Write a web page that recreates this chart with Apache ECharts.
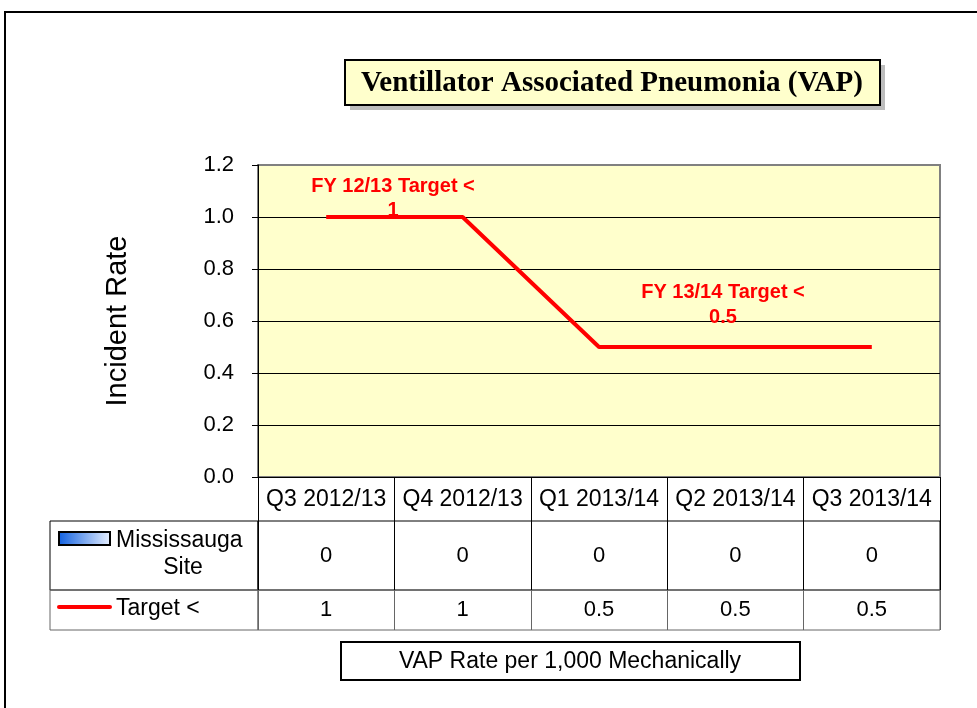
<!DOCTYPE html>
<html><head><meta charset="utf-8">
<script src="https://cdn.jsdelivr.net/npm/echarts@6/dist/echarts.min.js"></script>
<style>html,body{margin:0;padding:0;background:#fff}#c{width:977px;height:708px}</style>
</head><body><div id="c"></div>
<script>
const categories = ['Q3 2012/13','Q4 2012/13','Q1 2013/14','Q2 2013/14','Q3 2013/14'];
const siteValues = [0, 0, 0, 0, 0];
const targetValues = [1, 1, 0.5, 0.5, 0.5];
const yTicks = [0, 0.2, 0.4, 0.6, 0.8, 1.0, 1.2];

const chart = echarts.init(document.getElementById('c'));
const F = 'Arial, "Liberation Sans", sans-serif';
const gridL = 258, gridR = 37;
const splitColors = yTicks.map((t, i) => i === yTicks.length - 1 ? 'rgba(0,0,0,0)' : '#000');
const blueGrad = {type: 'linear', x: 0, y: 0, x2: 1, y2: 0, colorStops: [{offset: 0, color: '#1060e0'}, {offset: 1, color: '#e8f0ff'}]};
const cellLabel = {show: true, position: 'inside', color: '#000', opacity: 1, fontSize: 22, fontFamily: F, textBorderWidth: 0};

const option = {
  animation: false,
  backgroundColor: '#fff',
  grid: [
    {left: gridL, right: gridR, top: 165, bottom: 231, show: true, backgroundColor: '#FFFFCC', borderColor: '#808080', borderWidth: 2},
    {left: gridL, right: gridR, top: 521, height: 69, show: true, borderColor: '#000', borderWidth: 1},
    {left: gridL, right: gridR, top: 590, height: 40, show: true, borderColor: '#666', borderWidth: 1}
  ],
  xAxis: [
    {gridIndex: 0, type: 'category', data: categories, boundaryGap: true,
     axisLine: {show: true, lineStyle: {color: '#000', width: 1}},
     axisTick: {show: true, interval: 0, length: 44, lineStyle: {color: '#000'}},
     axisLabel: {interval: 0, color: '#000', fontSize: 23, fontFamily: F, margin: 11},
     splitLine: {show: false}},
    {gridIndex: 1, type: 'category', data: categories, boundaryGap: true,
     axisLine: {show: false}, axisTick: {show: false}, axisLabel: {show: false},
     splitLine: {show: true, interval: 0, lineStyle: {color: '#000'}}},
    {gridIndex: 2, type: 'category', data: categories, boundaryGap: true,
     axisLine: {show: false}, axisTick: {show: false}, axisLabel: {show: false},
     splitLine: {show: true, interval: 0, lineStyle: {color: '#666'}}}
  ],
  yAxis: [
    {gridIndex: 0, type: 'value', min: yTicks[0], max: yTicks[yTicks.length-1], interval: 0.2,
     name: 'Incident Rate', nameLocation: 'middle', nameGap: 126, nameRotate: 90,
     nameTextStyle: {fontSize: 29, color: '#000', fontFamily: F},
     axisLine: {show: true, lineStyle: {color: '#000'}},
     axisTick: {show: true, length: 6, lineStyle: {color: '#000'}},
     axisLabel: {color: '#000', fontSize: 22, fontFamily: F, margin: 24, formatter: v => v.toFixed(1)},
     splitLine: {show: true, lineStyle: {color: splitColors, width: 1}}},
    {gridIndex: 1, type: 'value', min: -1, max: 1, show: false},
    {gridIndex: 2, type: 'value', min: -1, max: 1, show: false}
  ],
  series: [
    {name: 'Mississauga Site', type: 'bar', xAxisIndex: 0, yAxisIndex: 0, data: siteValues,
     itemStyle: {color: blueGrad, borderWidth: 0}},
    {name: 'Target <', type: 'line', xAxisIndex: 0, yAxisIndex: 0, data: targetValues,
     symbol: 'none', lineStyle: {color: '#FF0000', width: 4}, z: 5},
    {type: 'scatter', xAxisIndex: 1, yAxisIndex: 1, symbolSize: 1, itemStyle: {color: 'rgba(0,0,0,0)', opacity: 1},
     data: siteValues.map((v, i) => [i, 0]),
     label: Object.assign({}, cellLabel, {formatter: p => String(siteValues[p.dataIndex])})},
    {type: 'scatter', xAxisIndex: 2, yAxisIndex: 2, symbolSize: 1, itemStyle: {color: 'rgba(0,0,0,0)', opacity: 1},
     data: targetValues.map((v, i) => [i, 0]),
     label: Object.assign({}, cellLabel, {formatter: p => String(targetValues[p.dataIndex])})}
  ],
  graphic: [
    {type: 'rect', shape: {x: 5, y: 12, width: 1000, height: 730}, style: {fill: 'none', stroke: '#000', lineWidth: 2}, silent: true},
    // title
    {type: 'rect', shape: {x: 350, y: 65, width: 535, height: 45}, style: {fill: '#bdbdbd'}, z: 10},
    {type: 'rect', shape: {x: 345, y: 60, width: 535, height: 45}, style: {fill: '#FFFFCC', stroke: '#000', lineWidth: 2}, z: 11},
    {type: 'text', x: 612, y: 84, z: 12, style: {text: 'Ventillator Associated Pneumonia (VAP)', font: 'bold 29px "Liberation Serif", "Times New Roman", serif', fill: '#000', align: 'center', verticalAlign: 'middle'}},
    // annotations
    {type: 'text', x: 393, y: 198, z: 20, silent: true, style: {text: 'FY 12/13 Target <\n1', font: 'bold 20px Arial, "Liberation Sans", sans-serif', fill: '#FF0000', align: 'center', verticalAlign: 'middle', lineHeight: 24}},
    {type: 'text', x: 723, y: 305, z: 20, silent: true, style: {text: 'FY 13/14 Target <\n0.5', font: 'bold 20px Arial, "Liberation Sans", sans-serif', fill: '#FF0000', align: 'center', verticalAlign: 'middle', lineHeight: 25}},
    // legend cells
    {type: 'rect', shape: {x: 50, y: 521, width: 208, height: 69}, style: {fill: 'none', stroke: '#000', lineWidth: 1}},
    {type: 'rect', shape: {x: 50, y: 590, width: 208, height: 40}, style: {fill: 'none', stroke: '#666', lineWidth: 1}},
    {type: 'rect', shape: {x: 59, y: 532, width: 51, height: 13}, style: {fill: blueGrad, stroke: '#000', lineWidth: 2}},
    {type: 'text', x: 116, y: 541, style: {text: 'Mississauga', font: '23px Arial, "Liberation Sans", sans-serif', fill: '#000', verticalAlign: 'middle'}},
    {type: 'text', x: 183, y: 568, style: {text: 'Site', font: '23px Arial, "Liberation Sans", sans-serif', fill: '#000', align: 'center', verticalAlign: 'middle'}},
    {type: 'line', shape: {x1: 59, y1: 607, x2: 110, y2: 607}, style: {stroke: '#FF0000', lineWidth: 4, lineCap: 'round'}},
    {type: 'text', x: 116, y: 609, style: {text: 'Target <', font: '23px Arial, "Liberation Sans", sans-serif', fill: '#000', verticalAlign: 'middle'}},
    // bottom box
    {type: 'rect', shape: {x: 341, y: 642, width: 459, height: 38}, style: {fill: '#fff', stroke: '#000', lineWidth: 2}},
    {type: 'text', x: 570, y: 662, style: {text: 'VAP Rate per 1,000 Mechanically', font: '23px Arial, "Liberation Sans", sans-serif', fill: '#000', align: 'center', verticalAlign: 'middle'}}
  ]
};
chart.setOption(option);
</script>
</body></html>
